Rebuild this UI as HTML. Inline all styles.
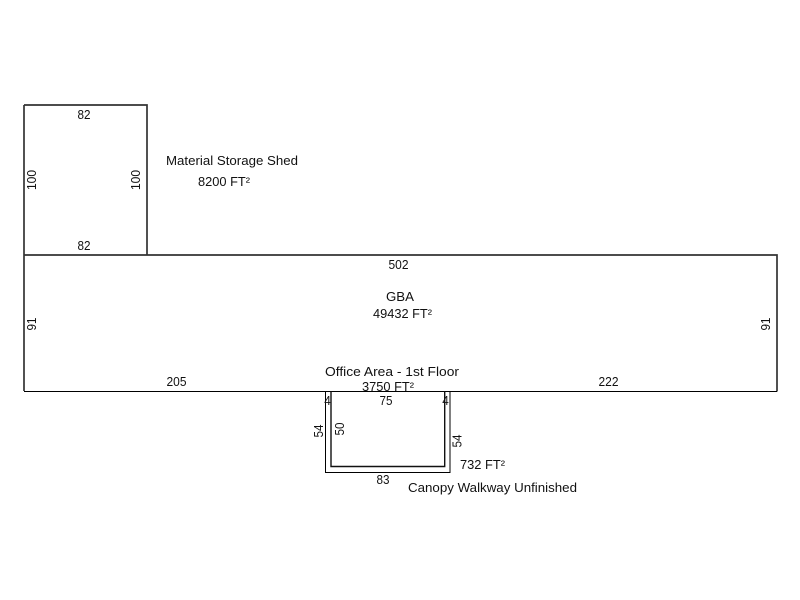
<!DOCTYPE html>
<html><head><meta charset="utf-8"><style>
html,body{margin:0;padding:0;background:#fff;width:800px;height:600px;overflow:hidden}
svg{display:block}
text{font-family:"Liberation Sans",Arial,sans-serif;font-size:13px;fill:#111}
path{fill:none}
.t{stroke:#333;stroke-width:1.7}
.b{stroke:#000;stroke-width:1}
.i{stroke:#111;stroke-width:1.4}
</style></head><body>
<svg width="800" height="600" viewBox="0 0 800 600" xmlns="http://www.w3.org/2000/svg">
<path class="t" d="M24 105H147V255"/>
<path class="t" d="M24 105V391"/>
<path class="t" d="M24 255H777V391.500"/>
<path class="b" d="M24 391.500H777"/>
<path class="i" d="M331 391.500V466.500H444.700V391.500"/>
<path class="b" d="M325.500 391.500V472.500H450V391.500"/>
<text x="84" y="119" text-anchor="middle" textLength="13" lengthAdjust="spacingAndGlyphs">82</text>
<text x="84" y="250" text-anchor="middle" textLength="13" lengthAdjust="spacingAndGlyphs">82</text>
<text transform="translate(36,180) rotate(-90)" text-anchor="middle" textLength="20" lengthAdjust="spacingAndGlyphs">100</text>
<text transform="translate(140,180) rotate(-90)" text-anchor="middle" textLength="20" lengthAdjust="spacingAndGlyphs">100</text>
<text x="166" y="165" textLength="132" lengthAdjust="spacingAndGlyphs">Material Storage Shed</text>
<text x="198" y="186" textLength="52" lengthAdjust="spacingAndGlyphs">8200 FT²</text>
<text x="398.500" y="269" text-anchor="middle" textLength="20" lengthAdjust="spacingAndGlyphs">502</text>
<text x="386" y="301" textLength="28" lengthAdjust="spacingAndGlyphs">GBA</text>
<text x="373" y="318" textLength="59" lengthAdjust="spacingAndGlyphs">49432 FT²</text>
<text transform="translate(36,324) rotate(-90)" text-anchor="middle" textLength="13" lengthAdjust="spacingAndGlyphs">91</text>
<text transform="translate(770,324) rotate(-90)" text-anchor="middle" textLength="13" lengthAdjust="spacingAndGlyphs">91</text>
<text x="176.500" y="386" text-anchor="middle" textLength="20" lengthAdjust="spacingAndGlyphs">205</text>
<text x="608.500" y="386" text-anchor="middle" textLength="20" lengthAdjust="spacingAndGlyphs">222</text>
<text x="325" y="376" textLength="134" lengthAdjust="spacingAndGlyphs">Office Area - 1st Floor</text>
<text x="362" y="391" textLength="52" lengthAdjust="spacingAndGlyphs">3750 FT²</text>
<text x="386" y="405" text-anchor="middle" textLength="13" lengthAdjust="spacingAndGlyphs">75</text>
<text x="327.500" y="405" text-anchor="middle" textLength="6.500" lengthAdjust="spacingAndGlyphs">4</text>
<text x="445.500" y="405" text-anchor="middle" textLength="6.500" lengthAdjust="spacingAndGlyphs">4</text>
<text transform="translate(323,431) rotate(-90)" text-anchor="middle" textLength="13" lengthAdjust="spacingAndGlyphs">54</text>
<text transform="translate(344,429) rotate(-90)" text-anchor="middle" textLength="13" lengthAdjust="spacingAndGlyphs">50</text>
<text transform="translate(461.500,441) rotate(-90)" text-anchor="middle" textLength="13" lengthAdjust="spacingAndGlyphs">54</text>
<text x="383" y="484" text-anchor="middle" textLength="13" lengthAdjust="spacingAndGlyphs">83</text>
<text x="460" y="469" textLength="45" lengthAdjust="spacingAndGlyphs">732 FT²</text>
<text x="408" y="492" textLength="169" lengthAdjust="spacingAndGlyphs">Canopy Walkway Unfinished</text>
</svg>
</body></html>
